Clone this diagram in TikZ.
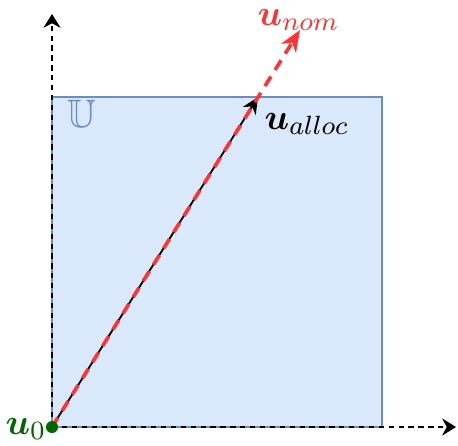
\documentclass[tikz,border=0pt]{standalone}
\usepackage{amsmath,amssymb,bm}
\usetikzlibrary{arrows.meta}
\definecolor{boxfill}{HTML}{DAE8FC}
\definecolor{boxline}{HTML}{6C8EBF}
\definecolor{nomred}{HTML}{FF3333}
\definecolor{zgreen}{HTML}{006600}
\tikzset{
  axis/.style={line width=0.6pt, dash pattern=on 1.6pt off 1.4pt, -{Stealth[length=4.2pt,width=5.2pt,inset=1.4pt]}},
  setbox/.style={draw=boxline, fill=boxfill, line width=0.6pt},
  alloc/.style={line width=0.55pt, -{Stealth[length=5pt,width=4.6pt,inset=1.6pt]}},
  nom/.style={nomred, line width=1.1pt, dash pattern=on 3.4pt off 2.4pt, -{Stealth[length=6.5pt,width=5.2pt,inset=2pt]}},
  lbl/.style={inner sep=0pt, font=\fontsize{11}{13}\selectfont, anchor=base west}
}
\begin{document}
\begin{tikzpicture}[x=0.303pt, y=-0.303pt]
\useasboundingbox (0,0) rectangle (458,445);
\coordinate (O) at (52,427);
\coordinate (ytip) at (52,14);
\coordinate (xtip) at (456,427);
\coordinate (atip) at (258,97);
\coordinate (ntip) at (300,30);
\draw[setbox] (52,97) rectangle (382,427);
\draw[axis] (O) -- (ytip);
\draw[axis] (O) -- (xtip);
\draw[alloc] (O) -- (atip);
\draw[nom] (O) -- (ntip);
\fill[zgreen] (O) circle (6);
\node[lbl, text=boxline, font=\large] (U) at (67,127) {$\mathbb{U}$};
\node[lbl, text=zgreen] (u0) at (5,434) {$\bm{u}_0$};
\node[lbl] (ua) at (264,129) {$\bm{u}_{alloc}$};
\node[lbl, text=nomred] (un) at (257,25) {$\bm{u}_{nom}$};
\end{tikzpicture}
\end{document}
